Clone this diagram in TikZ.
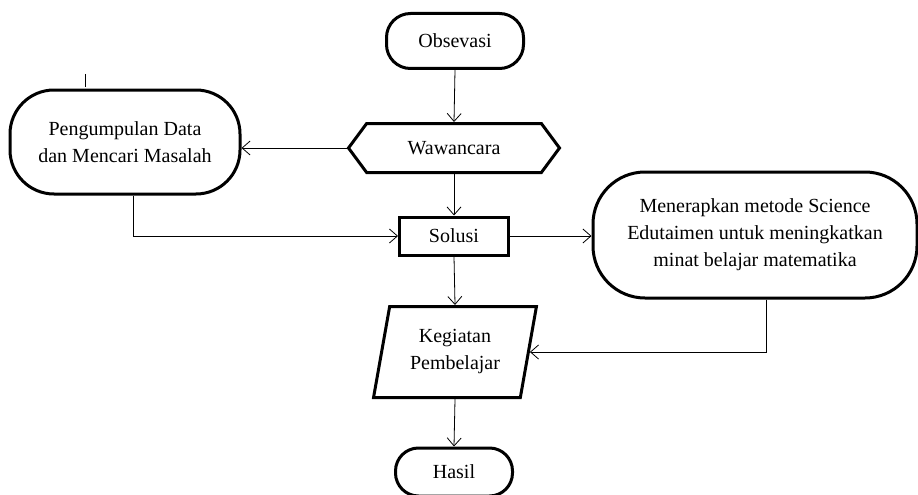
\documentclass[tikz,border=0pt]{standalone}
\usepackage{fontspec}
\setmainfont{Liberation Serif}
\usetikzlibrary{arrows.meta,shapes.geometric,shapes.symbols}

\tikzset{
	term/.style={draw, line width=3pt, align=center, inner sep=0pt},
	link/.style={line width=0.8pt, -{Straight Barb[length=8pt,width=14pt]}}
}

\begin{document}
\begin{tikzpicture}[x=1pt,y=-1pt]
	\fontsize{20}{27}\selectfont
	\useasboundingbox (0,0) rectangle (918,495);
	\node[term, rounded corners=24pt, minimum width=137pt, minimum height=55pt] (Obs) at (455,41) {Obsevasi};
	\node[term, signal, signal to=west and east, signal pointer angle=107, minimum width=211pt, minimum height=49pt] (Waw) at (454,148) {Wawancara};
	\node[term, minimum width=109pt, minimum height=38pt] (Sol) at (454,236) {Solusi};
	\node[term, rounded corners=44pt, minimum width=230pt, minimum height=104pt] (Peng) at (125,142) {Pengumpulan Data\\dan Mencari Masalah};
	\node[term, rounded corners=52pt, minimum width=324pt, minimum height=126pt] (Men) at (755,235) {Menerapkan metode Science\\Edutaimen untuk meningkatkan\\minat belajar matematika};
	\node[term, trapezium, trapezium left angle=76, trapezium right angle=104, trapezium stretches=true, minimum width=163pt, minimum height=91pt] (Keg) at (455,352) {Kegiatan\\Pembelajar};
	\node[term, rounded corners=23pt, minimum width=117pt, minimum height=48pt] (Has) at (454,472) {Hasil};
	\coordinate (stub) at (85,74);
	
	\draw[link] (Obs.south) -- (Waw.north);
	\draw[link] (Waw.west) -- (Waw.west -| Peng.east);
	\draw[link] (Waw.south) -- (Sol.north);
	\draw[link] ([xshift=8pt]Peng.south) |- (Sol.west);
	\draw[link] (Sol.east) -- (Sol.east -| Men.west);
	\draw[link] (Sol.south) -- (Keg.north);
	\draw[link] ([xshift=11pt]Men.south) |- (Keg.east);
	\draw[link] (Keg.south) -- (Has.north);
	\draw[line width=0.8pt] (stub) -- ([yshift=2pt]stub |- Peng.north);
\end{tikzpicture}
\end{document}
